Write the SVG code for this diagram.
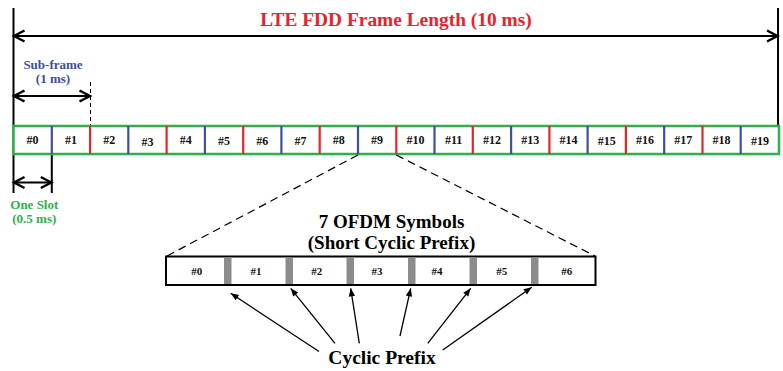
<svg xmlns="http://www.w3.org/2000/svg" width="783" height="371" viewBox="0 0 783 371">
  <style>
    .t { font-family: "Liberation Serif", "Times New Roman", serif; font-weight: bold; text-anchor: middle; }
    .cell { font-size: 12px; fill: #111; }
    .sym { font-size: 11px; fill: #111; }
    .blk { stroke: #000; stroke-width: 2; fill: none; }
    .dim { stroke: #000; stroke-width: 2; fill: none; marker-start: url(#chev); marker-end: url(#chev); }
    .red { stroke: #ec2229; stroke-width: 2.2; }
    .blue { stroke: #3e4fa1; stroke-width: 2.2; }
    .dash { stroke: #000; stroke-width: 1.2; stroke-dasharray: 8 5; fill: none; }
    .cp { fill: #8c8c8c; }
    .cpa { stroke: #000; stroke-width: 1.3; fill: none; marker-end: url(#tri); }
  </style>
  <defs>
    <marker id="chev" viewBox="-13 -7 14 14" refX="0" refY="0" markerWidth="14" markerHeight="14" markerUnits="userSpaceOnUse" orient="auto-start-reverse" overflow="visible">
      <path d="M-11,-5.5 L-0.5,0 L-11,5.5" fill="none" stroke="#000" stroke-width="2.4"/>
    </marker>
    <marker id="tri" viewBox="-9 -4 10 8" refX="0" refY="0" markerWidth="10" markerHeight="8" markerUnits="userSpaceOnUse" orient="auto">
      <path d="M-8,-3.2 L0,0 L-8,3.2 Z" fill="#000"/>
    </marker>
  </defs>
  <rect width="783" height="371" fill="#fff"/>

  <!-- frame length dimension -->
  <g id="frame-length">
    <line class="blk" x1="13.5" y1="8" x2="13.5" y2="193"/>
    <line class="blk" x1="778" y1="8" x2="778" y2="126"/>
    <line class="dim" x1="13.5" y1="36" x2="778" y2="36"/>
    <text class="t" x="396" y="25.5" font-size="19.4" fill="#ec2229">LTE FDD Frame Length (10 ms)</text>
  </g>

  <!-- sub-frame dimension -->
  <g id="subframe">
    <line x1="90.5" y1="82" x2="90.5" y2="126" stroke="#000" stroke-width="1" stroke-dasharray="4 3"/>
    <line class="dim" x1="13.5" y1="96" x2="90.5" y2="96"/>
    <text class="t" x="53" y="68.5" font-size="13" fill="#3e4fa1">Sub-frame</text>
    <text class="t" x="53" y="83" font-size="13" fill="#3e4fa1">(1 ms)</text>
  </g>

  <!-- slot dimension -->
  <g id="slot">
    <line class="blk" x1="51.8" y1="154" x2="51.8" y2="193"/>
    <line class="dim" x1="13.5" y1="182.5" x2="51.8" y2="182.5"/>
    <text class="t" x="34.3" y="209" font-size="13" fill="#2cb24a">One Slot</text>
    <text class="t" x="34.3" y="222.5" font-size="13" fill="#2cb24a">(0.5 ms)</text>
  </g>

  <!-- 20 slots of the radio frame -->
  <g id="frame">
    <rect x="13.5" y="126" width="765.5" height="28" fill="#fff" stroke="#2cb24a" stroke-width="2.5"/>
    <g id="dividers">
      <line class="blue" x1="51.8" y1="126" x2="51.8" y2="154"/>
      <line class="red" x1="90.1" y1="126" x2="90.1" y2="154"/>
      <line class="blue" x1="128.3" y1="126" x2="128.3" y2="154"/>
      <line class="red" x1="166.6" y1="126" x2="166.6" y2="154"/>
      <line class="blue" x1="204.9" y1="126" x2="204.9" y2="154"/>
      <line class="red" x1="243.2" y1="126" x2="243.2" y2="154"/>
      <line class="blue" x1="281.4" y1="126" x2="281.4" y2="154"/>
      <line class="red" x1="319.7" y1="126" x2="319.7" y2="154"/>
      <line class="blue" x1="358.0" y1="126" x2="358.0" y2="154"/>
      <line class="red" x1="396.3" y1="126" x2="396.3" y2="154"/>
      <line class="blue" x1="434.5" y1="126" x2="434.5" y2="154"/>
      <line class="red" x1="472.8" y1="126" x2="472.8" y2="154"/>
      <line class="blue" x1="511.1" y1="126" x2="511.1" y2="154"/>
      <line class="red" x1="549.4" y1="126" x2="549.4" y2="154"/>
      <line class="blue" x1="587.6" y1="126" x2="587.6" y2="154"/>
      <line class="red" x1="625.9" y1="126" x2="625.9" y2="154"/>
      <line class="blue" x1="664.2" y1="126" x2="664.2" y2="154"/>
      <line class="red" x1="702.5" y1="126" x2="702.5" y2="154"/>
      <line class="blue" x1="740.7" y1="126" x2="740.7" y2="154"/>
    </g>
    <g id="slot-labels">
      <text class="t cell" x="32.6" y="144">#0</text>
      <text class="t cell" x="70.9" y="144">#1</text>
      <text class="t cell" x="109.2" y="144">#2</text>
      <text class="t cell" x="147.5" y="146">#3</text>
      <text class="t cell" x="185.7" y="144">#4</text>
      <text class="t cell" x="224.0" y="145">#5</text>
      <text class="t cell" x="262.3" y="145">#6</text>
      <text class="t cell" x="300.6" y="145">#7</text>
      <text class="t cell" x="338.8" y="144">#8</text>
      <text class="t cell" x="377.1" y="144">#9</text>
      <text class="t cell" x="415.4" y="144">#10</text>
      <text class="t cell" x="453.7" y="144">#11</text>
      <text class="t cell" x="491.9" y="144">#12</text>
      <text class="t cell" x="530.2" y="144">#13</text>
      <text class="t cell" x="568.5" y="144">#14</text>
      <text class="t cell" x="606.8" y="145">#15</text>
      <text class="t cell" x="645.0" y="144">#16</text>
      <text class="t cell" x="683.3" y="144">#17</text>
      <text class="t cell" x="721.6" y="144">#18</text>
      <text class="t cell" x="759.9" y="145">#19</text>
    </g>
  </g>

  <!-- zoom lines from slot #9 to the symbol row, and prefix pointers -->
  <g id="connectors">
    <line class="dash" x1="358" y1="155" x2="167" y2="256"/>
    <line class="dash" x1="396.3" y1="155" x2="595" y2="256"/>
    <line class="cpa" x1="319" y1="351.5" x2="230.7" y2="293.3"/>
    <line class="cpa" x1="335" y1="343.3" x2="290.7" y2="288.3"/>
    <line class="cpa" x1="359.3" y1="343.3" x2="350.7" y2="288.3"/>
    <line class="cpa" x1="400" y1="336" x2="410.7" y2="288.3"/>
    <line class="cpa" x1="427.7" y1="343.3" x2="470.7" y2="288.3"/>
    <line class="cpa" x1="442.7" y1="350" x2="531.7" y2="287.3"/>
  </g>

  <!-- one slot: 7 OFDM symbols with cyclic prefixes -->
  <g id="symbols">
    <text class="t" x="391.5" y="228" font-size="19">7 OFDM Symbols</text>
    <text class="t" x="391.5" y="249" font-size="19">(Short Cyclic Prefix)</text>
    <rect x="166" y="256.5" width="429.5" height="28.5" fill="#fff" stroke="#000" stroke-width="2"/>
    <rect class="cp" x="224" y="257.5" width="7.5" height="26.5"/>
    <rect class="cp" x="285.5" y="257.5" width="7.5" height="26.5"/>
    <rect class="cp" x="346.5" y="257.5" width="7.5" height="26.5"/>
    <rect class="cp" x="408" y="257.5" width="7.5" height="26.5"/>
    <rect class="cp" x="469.5" y="257.5" width="7.5" height="26.5"/>
    <rect class="cp" x="531" y="257.5" width="7.5" height="26.5"/>
    <text class="t sym" x="196.7" y="274.5">#0</text>
    <text class="t sym" x="256" y="274.5">#1</text>
    <text class="t sym" x="316.7" y="274.5">#2</text>
    <text class="t sym" x="377" y="274.5">#3</text>
    <text class="t sym" x="437" y="274.5">#4</text>
    <text class="t sym" x="501.7" y="274.5">#5</text>
    <text class="t sym" x="566.7" y="274.5">#6</text>
  </g>

  <g id="cp-label">
    <text class="t" x="382" y="364" font-size="19.5" fill="#000">Cyclic Prefix</text>
  </g>
</svg>
